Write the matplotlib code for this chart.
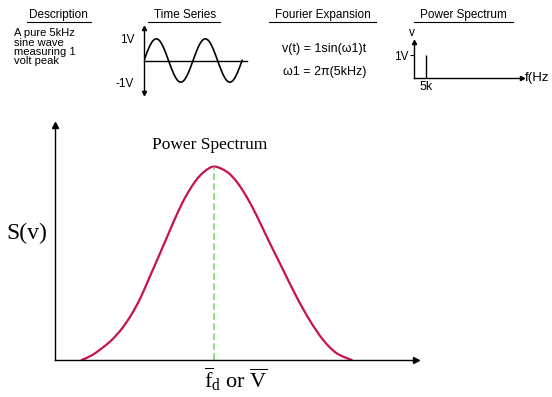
import numpy as np
import matplotlib
matplotlib.use('Agg')
from matplotlib import pyplot as plt
from matplotlib.lines import Line2D
from matplotlib.path import Path
from matplotlib.patches import PathPatch

plt.rcParams['font.family'] = ['Liberation Sans', 'DejaVu Sans']
plt.rcParams['mathtext.fontset'] = 'custom'
plt.rcParams['mathtext.rm'] = 'Liberation Serif'
plt.rcParams['mathtext.it'] = 'Liberation Serif:italic'

# main power spectrum curve (% of axis length / height)
spec_x = [7.4, 10.2, 12.9, 15.7, 18.5, 21.2, 23.6, 25.9, 28.7, 31.0, 33.6, 36.0, 38.8,
          41.3, 44.1, 47.6, 50.3, 53.1, 55.9, 58.7, 63.2, 67.0, 70.6, 74.3, 78.0, 82.2]
spec_s = [0, 2.0, 4.9, 8.5, 13.3, 19.4, 26.2, 34.2, 44.0, 52.2, 61.4, 69.0, 75.9,
          80.1, 82.3, 80.1, 75.9, 69.4, 61.3, 52.3, 38.3, 26.6, 16.8, 8.5, 2.9, 0]

# the 5 kHz, 1 V sine of the top row
sig_amp = 1.0    # V
sig_freq = 5.0   # kHz
n_cycles = 2

# its line spectrum
line_freq = [5]   # kHz
line_amp = [1]    # V

headers = ['Description', 'Time Series', 'Fourier Expansion', 'Power Spectrum']
header_x = [58, 185, 323, 463]
header_line = [(27, 91), (148, 220), (269, 376), (414, 513)]

W, H = 552, 397
fig = plt.figure(figsize=(W / 100, H / 100), dpi=100)


def fx(px):
    return px / W


def fy(py):
    return 1 - py / H


def smooth_path(xs, ys):
    # catmull-rom through the read points, drawn as cubic bezier segments
    p = np.column_stack([xs, ys]).astype(float)
    p = np.vstack([p[0], p, p[-1]])
    verts = [p[1]]
    codes = [Path.MOVETO]
    for i in range(1, len(p) - 2):
        c1 = p[i] + (p[i + 1] - p[i - 1]) / 6
        c2 = p[i + 1] - (p[i + 2] - p[i]) / 6
        verts += [c1, c2, p[i + 1]]
        codes += [Path.CURVE4] * 3
    return Path(verts, codes)


# ---- top row ----
for name, x0, (l0, l1) in zip(headers, header_x, header_line):
    fig.text(fx(x0), fy(15), name, ha='center', va='center', fontsize=8.5)
    fig.add_artist(Line2D([fx(l0), fx(l1)], [fy(22), fy(22)], color='black', lw=0.8))

desc = ['A pure 5kHz', 'sine wave', 'measuring 1', 'volt peak']
for i, s in enumerate(desc):
    fig.text(fx(14), fy(33.5 + 9.3 * i), s, ha='left', va='center', fontsize=8)

fig.text(fx(282), fy(49), 'v(t) = 1sin(\u03c91)t', ha='left', va='center', fontsize=9)
fig.text(fx(283), fy(72), '\u03c91 = 2\u03c0(5kHz)', ha='left', va='center', fontsize=9)

# time series
ax_t = fig.add_axes([fx(144), fy(93), fx(103), 65 / H])
t = np.linspace(0, n_cycles / sig_freq, 300)
v = sig_amp * np.sin(2 * np.pi * sig_freq * t)
ax_t.plot(t, v, color='black', lw=1.2)
ax_t.set_xlim(0, 0.42)
ax_t.set_ylim(-1.5, 1.5)
for s in ['top', 'right']:
    ax_t.spines[s].set_visible(False)
ax_t.spines['bottom'].set_position(('data', 0))
ax_t.spines['left'].set_linewidth(1)
ax_t.spines['bottom'].set_linewidth(1)
ax_t.plot(0, 1, '^k', ms=3, transform=ax_t.get_xaxis_transform(), clip_on=False)
ax_t.plot(0, 0, 'vk', ms=3, transform=ax_t.get_xaxis_transform(), clip_on=False)
ax_t.set_xticks([])
ax_t.set_yticks([-1, 1], ['-1V', '1V'], fontsize=8.5)
ax_t.tick_params(axis='y', length=0, pad=7)
ax_t.patch.set_alpha(0)

# small line spectrum
ax_p = fig.add_axes([fx(414), fy(78), fx(108), 36 / H])
ax_p.vlines(line_freq, 0, line_amp, color='black', lw=1)
ax_p.set_xlim(0, 45)
ax_p.set_ylim(0, 1.57)
for s in ['top', 'right']:
    ax_p.spines[s].set_visible(False)
ax_p.spines['left'].set_linewidth(1)
ax_p.spines['bottom'].set_linewidth(1)
ax_p.plot(0, 1, '^k', ms=3, transform=ax_p.get_xaxis_transform(), clip_on=False)
ax_p.plot(1, 0, '>k', ms=3, transform=ax_p.get_yaxis_transform(), clip_on=False)
ax_p.set_yticks([1], ['1V'], fontsize=8.5)
ax_p.tick_params(axis='y', length=3, pad=1)
ax_p.set_xticks(line_freq, ['5k'], fontsize=9)
ax_p.tick_params(axis='x', length=0, pad=2)
ax_p.text(-0.02, 1.25, 'v', transform=ax_p.transAxes, ha='center', va='center', fontsize=8.5)
ax_p.text(1.025, 0, 'f(Hz', transform=ax_p.transAxes, ha='left', va='center', fontsize=9.5)
ax_p.patch.set_alpha(0)

# ---- main chart ----
ax = fig.add_axes([fx(55), fy(360), fx(416 - 55), (360 - 125) / H])
ax.add_patch(PathPatch(smooth_path(spec_x, spec_s), facecolor='none',
                       edgecolor='#c8124e', lw=1.6, capstyle='round'))
pk = int(np.argmax(spec_s))
ax.vlines(spec_x[pk], 0, spec_s[pk], color='#77dd66', lw=1.2, linestyles=(0, (4, 2)))
ax.set_xlim(0, 100)
ax.set_ylim(0, 100)
for s in ['top', 'right']:
    ax.spines[s].set_visible(False)
ax.spines['left'].set_linewidth(1)
ax.spines['bottom'].set_linewidth(1)
ax.plot(1, 0, '>k', ms=4, transform=ax.get_yaxis_transform(), clip_on=False)
ax.plot(0, 1, '^k', ms=4, transform=ax.get_xaxis_transform(), clip_on=False)
ax.set_xticks([])
ax.set_yticks([])
ax.patch.set_alpha(0)

ax.text(0.427, 0.915, 'Power Spectrum', transform=ax.transAxes, ha='center', va='center',
        fontsize=12.5, family='Liberation Serif')
ax.text(-0.077, 0.54, 'S(v)', transform=ax.transAxes, ha='center', va='center',
        fontsize=17, family='Liberation Serif')
ax.text(0.5, -0.022, r'$\overline{\mathrm{f}}_{\mathrm{d}}$ or $\overline{\mathrm{V}}$',
        transform=ax.transAxes, ha='center', va='top', fontsize=16, family='Liberation Serif')

fig.savefig('out.png', dpi=100)
